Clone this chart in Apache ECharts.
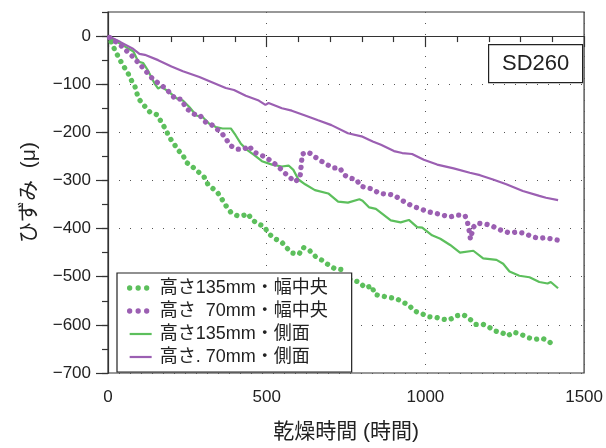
<!DOCTYPE html>
<html>
<head>
<meta charset="utf-8">
<script src="https://cdn.jsdelivr.net/npm/echarts@6/dist/echarts.min.js"></script>
<style>
html,body{margin:0;padding:0;background:#fff;}
#chart{width:606px;height:448px;}
</style>
</head>
<body>
<div id="chart"></div>
<script>
// ---- data (hours, strain μ) ----
const seriesNames = ['高さ135mm・幅中央', '高さ  70mm・幅中央', '高さ135mm・側面', '高さ. 70mm・側面'];
const xTicks = [0, 500, 1000, 1500];
const yTicks = [-700, -600, -500, -400, -300, -200, -100, 0];

const h135Center = [[10,-12],[23,-31],[35,-46],[47,-61],[61,-74],[72,-90],[85,-105],[92,-121],[101,-134],[116,-146],[132,-158],[156,-164],[168,-179],[182,-194],[192,-209],[207,-223],[221,-237],[236,-247],[246,-262],[265,-271],[284,-282],[303,-293],[314,-307],[329,-316],[345,-325],[359,-339],[371,-352],[387,-366],[407,-373],[426,-373],[441,-369],[452,-380],[470,-390],[491,-395],[506,-410],[525,-421],[546,-427],[563,-440],[581,-451],[602,-453],[615,-439],[636,-446],[654,-458],[675,-466],[694,-475],[716,-484],[735,-485],[745,-501],[768,-507],[792,-511],[810,-523],[831,-519],[841,-537],[863,-540],[886,-543],[907,-545],[927,-552],[948,-559],[964,-571],[987,-576],[1008,-583],[1031,-584],[1054,-588],[1075,-590],[1097,-581],[1120,-579],[1140,-588],[1159,-599],[1182,-599],[1201,-605],[1220,-613],[1239,-615],[1258,-623],[1279,-615],[1302,-620],[1326,-627],[1346,-630],[1369,-628],[1390,-635],[1409,-646]];

const h70Center = [[5,-3],[38,-18],[80,-44],[106,-63],[142,-90],[182,-109],[213,-131],[231,-131],[246,-150],[278,-165],[290,-165],[309,-180],[326,-184],[359,-202],[387,-228],[407,-235],[428,-235],[444,-228],[459,-241],[498,-252],[537,-271],[551,-281],[589,-303],[605,-294],[610,-260],[612,-245],[631,-241],[667,-258],[709,-274],[730,-274],[744,-288],[756,-294],[782,-298],[797,-312],[834,-318],[855,-327],[901,-330],[920,-339],[941,-347],[962,-354],[985,-359],[1008,-365],[1031,-368],[1055,-372],[1076,-376],[1100,-372],[1125,-373],[1133,-388],[1138,-405],[1142,-422],[1151,-397],[1163,-389],[1184,-390],[1206,-393],[1226,-400],[1245,-405],[1265,-409],[1289,-407],[1314,-410],[1336,-417],[1359,-420],[1380,-419],[1400,-422],[1418,-424]];

const h135Side = [[0,0],[28,-12],[54,-22],[80,-32],[95,-53],[111,-56],[127,-73],[148,-100],[158,-109],[168,-105],[194,-117],[215,-129],[236,-134],[257,-148],[278,-165],[298,-168],[319,-182],[340,-189],[361,-192],[387,-192],[402,-206],[418,-223],[439,-237],[460,-247],[485,-260],[517,-267],[548,-271],[569,-269],[584,-278],[600,-298],[621,-308],[652,-320],[694,-327],[725,-344],[756,-346],[792,-339],[802,-342],[823,-356],[844,-359],[891,-383],[922,-387],[948,-382],[974,-397],[990,-398],[1021,-414],[1047,-421],[1078,-434],[1109,-450],[1151,-446],[1182,-462],[1224,-465],[1245,-473],[1265,-489],[1296,-498],[1328,-501],[1359,-511],[1385,-514],[1395,-511],[1418,-524]];

const h70Side = [[0,0],[38,-12],[80,-27],[99,-37],[116,-39],[158,-50],[200,-63],[236,-73],[288,-85],[350,-102],[371,-108],[397,-112],[434,-124],[475,-134],[496,-143],[506,-139],[548,-150],[579,-155],[621,-165],[662,-175],[704,-185],[756,-202],[802,-209],[834,-219],[860,-226],[901,-239],[927,-243],[958,-245],[995,-257],[1037,-267],[1089,-275],[1140,-284],[1172,-289],[1213,-298],[1255,-308],[1307,-322],[1359,-332],[1380,-336],[1418,-341]];

const GREEN = '#5cbf5c';
const PURPLE = '#9b5fb2';
const latin = '"Liberation Sans", Arial, sans-serif';
const cjk = '"Liberation Sans", "Noto Sans CJK JP", sans-serif';
const minus = v => String(v).replace('-', '\u2212');

const chart = echarts.init(document.getElementById('chart'), null, {renderer: 'canvas'});

const dotted = c => ({color: c, width: 5.3, type: [0.01, 7.3], cap: 'round', join: 'round', opacity: 1});
const solid = c => ({color: c, width: 2.2});

chart.setOption({
  animation: false,
  backgroundColor: '#fff',
  grid: {left: 108, right: 17, top: 12, bottom: 69, show: true, borderColor: '#333', borderWidth: 1.2, containLabel: false},
  xAxis: [{
    type: 'value', min: 0, max: 1500, interval: 500,
    name: '乾燥時間 (時間)', nameLocation: 'middle', nameGap: 49,
    nameTextStyle: {fontFamily: cjk, fontSize: 21, color: '#222'},
    axisLine: {show: true, lineStyle: {color: '#333', width: 1.2}},
    axisTick: {show: true, inside: false, length: 11, lineStyle: {color: '#333', width: 1.2}, customValues: xTicks},
    minorTick: {show: true, splitNumber: 5, length: 6, lineStyle: {color: '#333', width: 1.2}},
    axisLabel: {fontFamily: latin, fontSize: 17, color: '#222', margin: 16, customValues: xTicks, formatter: v => String(v)},
    splitLine: {show: true, lineStyle: {color: '#555', width: 1, type: [1, 10]}}
  }],
  yAxis: [{
    type: 'value', min: -700, max: 50, interval: 100, position: 'left',
    name: 'ひずみ  (μ)', nameLocation: 'middle', nameGap: 68, nameRotate: 90,
    nameTextStyle: {fontFamily: cjk, fontSize: 21, color: '#222'},
    axisLine: {show: true, lineStyle: {color: '#333', width: 1.2}},
    axisTick: {show: true, inside: false, length: 12, lineStyle: {color: '#333', width: 1.2}, customValues: yTicks},
    axisLabel: {fontFamily: latin, fontSize: 17, color: '#222', margin: 17, customValues: yTicks, formatter: minus},
    splitLine: {show: true, lineStyle: {color: '#555', width: 1, type: [1, 10]}}
  }, {
    type: 'value', min: -700, max: 50, interval: 50, position: 'left', offset: 0,
    axisLine: {show: false},
    axisTick: {show: true, inside: false, length: 6, lineStyle: {color: '#333', width: 1.2}},
    axisLabel: {show: false},
    splitLine: {show: false}
  }],
  legend: {
    orient: 'vertical', left: 117, top: 273,
    data: [
      {name: seriesNames[0], lineStyle: {color: GREEN, width: 5.3, type: [0.01, 8.5], cap: 'round'}},
      {name: seriesNames[1], lineStyle: {color: PURPLE, width: 5.3, type: [0.01, 8.5], cap: 'round'}},
      {name: seriesNames[2], lineStyle: {color: GREEN, width: 2.2, type: 'solid'}},
      {name: seriesNames[3], lineStyle: {color: PURPLE, width: 2.2, type: 'solid'}}
    ],
    backgroundColor: '#fff',
    borderColor: '#222', borderWidth: 1.2, borderRadius: 0,
    padding: [6, 24, 6, 10],
    itemGap: 5, itemWidth: 22, itemHeight: 14,
    itemStyle: {opacity: 0},
    textStyle: {fontFamily: cjk, fontSize: 18, color: '#222', lineHeight: 18, padding: [0, 0, 0, 3]}
  },
  graphic: [{
    type: 'group', left: 488, top: 44,
    children: [
      {type: 'rect', shape: {x: 0, y: 0, width: 94, height: 38}, style: {fill: '#fff', stroke: '#222', lineWidth: 1.2}},
      {type: 'text', x: 47, y: 19, style: {text: 'SD260', font: '22px "Liberation Sans", Arial, sans-serif', fill: '#222', align: 'center', verticalAlign: 'middle'}}
    ]
  }],
  series: [
    {name: seriesNames[0], type: 'line', data: h135Center, showSymbol: false, symbol: 'none', lineStyle: dotted(GREEN), itemStyle: {color: GREEN}, z: 3},
    {name: seriesNames[1], type: 'line', data: h70Center, showSymbol: false, symbol: 'none', lineStyle: dotted(PURPLE), itemStyle: {color: PURPLE}, z: 3},
    {name: seriesNames[2], type: 'line', data: h135Side, showSymbol: false, symbol: 'none', lineStyle: solid(GREEN), itemStyle: {color: GREEN}, z: 2},
    {name: seriesNames[3], type: 'line', data: h70Side, showSymbol: false, symbol: 'none', lineStyle: solid(PURPLE), itemStyle: {color: PURPLE}, z: 2}
  ]
});
</script>
</body>
</html>
